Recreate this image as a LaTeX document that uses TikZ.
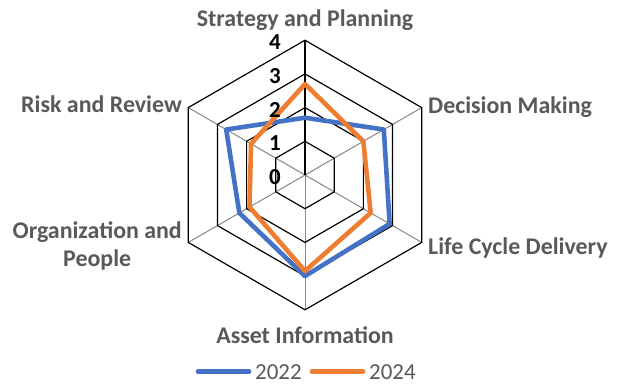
\documentclass[tikz,border=0pt]{standalone}
\usepackage{fontspec}
\setmainfont{Carlito}
\usepackage{xcolor}
\usepackage{tikz}
\usetikzlibrary{calc}

\definecolor{labelgray}{RGB}{89,89,89}
\definecolor{spokegray}{RGB}{134,134,134}
\definecolor{blueseries}{RGB}{68,114,196}
\definecolor{orangeseries}{RGB}{237,125,49}

\tikzset{
  catlabel/.style={font=\fontsize{24}{28}\selectfont\bfseries, text=labelgray, inner sep=0pt},
  ticklabel/.style={font=\fontsize{23}{28}\selectfont\bfseries, text=black, inner sep=0pt, anchor=east},
  legendtext/.style={font=\fontsize{23}{28}\selectfont, text=labelgray, inner sep=0pt, anchor=base west},
  gridring/.style={draw=black, line width=1.2},
  spoke/.style={draw=spokegray, line width=1},
  series/.style={line width=4.6, line join=round},
}

\begin{document}
\begin{tikzpicture}[x=1bp,y=1bp,yscale=-1,xscale=1]
\useasboundingbox (0,0) rectangle (619,385);

% centre of the chart, one unit = 33.7
\coordinate (c) at (305,175);

%Spokes
\foreach \a in {-30,30,90,150,210}
  \draw[spoke] (c) -- ++(\a:134.8);
\draw[gridring] (c) -- ++(-90:134.8);

%Rings 1 to 4
\foreach \k in {1,2,3,4}
  \draw[gridring] ($(c)+(-90:33.7*\k)$) -- ($(c)+(-30:33.7*\k)$) -- ($(c)+(30:33.7*\k)$)
    -- ($(c)+(90:33.7*\k)$) -- ($(c)+(150:33.7*\k)$) -- ($(c)+(210:33.7*\k)$) -- cycle;

%Series 2022
\draw[series, draw=blueseries] ($(c)+(-90:33.7*1.7)$) -- ($(c)+(-30:33.7*2.7)$) -- ($(c)+(30:33.7*2.9)$)
  -- ($(c)+(90:33.7*3.0)$) -- ($(c)+(150:33.7*2.25)$) -- ($(c)+(210:33.7*2.7)$) -- cycle;
%Series 2024
\draw[series, draw=orangeseries] ($(c)+(-90:33.7*2.7)$) -- ($(c)+(-30:33.7*2.0)$) -- ($(c)+(30:33.7*2.25)$)
  -- ($(c)+(90:33.7*2.85)$) -- ($(c)+(150:33.7*1.9)$) -- ($(c)+(210:33.7*1.85)$) -- cycle;

% Tick labels
\foreach \k in {0,1,2,3,4}
  \node[ticklabel] (tick\k) at (281,{177-33.7*\k}) {\k};

% Category labels
\node[catlabel, anchor=base] (strategy) at (305,26) {Strategy and Planning};
\node[catlabel, anchor=base west] (decision) at (428,113) {Decision Making};
\node[catlabel, anchor=base west] (lifecycle) at (428,254) {Life Cycle Delivery};
\node[catlabel, anchor=base] (asset) at (305,343) {Asset Information};
\node[catlabel, anchor=base east, align=center] (organization) at (182,266) {Organization and\\People};
\node[catlabel, anchor=base east] (risk) at (182,112) {Risk and Review};

% Legend
\coordinate (leg22a) at (198,371.5);
\coordinate (leg22b) at (249,371.5);
\coordinate (leg24a) at (312,371.5);
\coordinate (leg24b) at (363,371.5);
\draw[blueseries, line width=4.6, line cap=round] (leg22a) -- (leg22b);
\draw[orangeseries, line width=4.6, line cap=round] (leg24a) -- (leg24b);
\node[legendtext] (year22) at (255,379.5) {2022};
\node[legendtext] (year24) at (369,379.5) {2024};

\end{tikzpicture}
\end{document}
